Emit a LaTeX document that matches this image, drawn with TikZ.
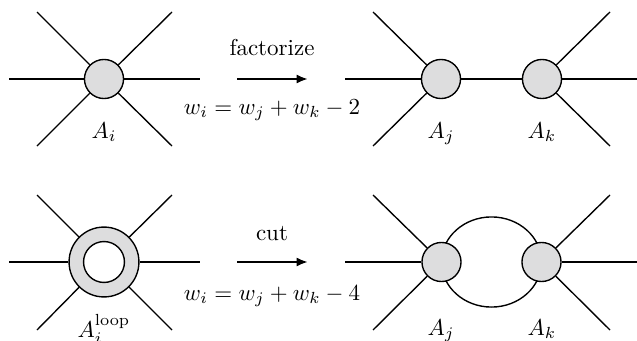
\documentclass[tikz,border=0pt]{standalone}
\usetikzlibrary{arrows.meta,backgrounds}
\definecolor{vfill}{RGB}{221,221,222}
\begin{document}
\begin{tikzpicture}[x=0.435pt,y=-0.435pt,
  vtx/.style={circle,draw,fill=vfill,minimum size=17pt,inner sep=0pt,line width=0.6pt},
  leg/.style={line width=0.6pt},
  bond/.style={line width=0.9pt},
  arr/.style={line width=1.1pt,-{Latex[length=5pt,width=4pt]}},
  lbl/.style={anchor=base,inner sep=0pt}
]
\useasboundingbox (0,0) rectangle (637,341);

% ---------- top left ----------
\node[vtx] (Ai) at (104,79) {};
\coordinate (tlw) at (9,79);   \coordinate (tle) at (200,79);
\coordinate (tlnw) at (37,12); \coordinate (tlne) at (172,12);
\coordinate (tlsw) at (37,146);\coordinate (tlse) at (172,146);
\foreach \c in {tlw,tle,tlnw,tlne,tlsw,tlse} \draw[leg] (Ai) -- (\c);
\node[lbl] (Ailab) at (104,138) {$A_i$};

% ---------- top arrow ----------
\coordinate (tas) at (237,79); \coordinate (tae) at (308,79);
\draw[arr] (tas) -- (tae);
\node[lbl] (fact) at (272,55) {factorize};
\node[lbl] (wtop) at (272,114) {$w_i = w_j + w_k - 2$};

% ---------- top right ----------
\node[vtx] (Aj) at (441,79) {};
\node[vtx] (Ak) at (542,79) {};
\coordinate (trw) at (345,79);  \coordinate (tre) at (637,79);
\coordinate (trjn) at (373,12); \coordinate (trjs) at (373,146);
\coordinate (trkn) at (610,12); \coordinate (trks) at (610,146);
\draw[leg] (trw) -- (Aj);
\draw[bond] (Aj) -- (Ak);
\draw[leg] (Ak) -- (tre);
\draw[leg] (Aj) -- (trjn);
\draw[leg] (Aj) -- (trjs);
\draw[leg] (Ak) -- (trkn);
\draw[leg] (Ak) -- (trks);
\node[lbl] (Ajlab) at (441,138) {$A_j$};
\node[lbl] (Aklab) at (542,138) {$A_k$};

% ---------- bottom left ----------
\node[circle,draw,fill=vfill,minimum size=30.4pt,inner sep=0pt,line width=0.6pt] (ring) at (104,262) {};
\node[circle,draw,fill=white,minimum size=17.8pt,inner sep=0pt,line width=0.6pt] (hole) at (104,262) {};
\coordinate (blw) at (9,262);   \coordinate (ble) at (200,262);
\coordinate (blnw) at (37,195); \coordinate (blne) at (172,195);
\coordinate (blsw) at (37,330); \coordinate (blse) at (172,330);
\foreach \c in {blw,ble,blnw,blne,blsw,blse} \draw[leg] (ring) -- (\c);
\node[lbl] (Alooplab) at (104,337) {$A_i^{\mathrm{loop}}$};

% ---------- bottom arrow ----------
\coordinate (bas) at (237,262); \coordinate (bae) at (308,262);
\draw[arr] (bas) -- (bae);
\node[lbl] (cut) at (272,240) {cut};
\node[lbl] (wbot) at (272,300) {$w_i = w_j + w_k - 4$};

% ---------- bottom right ----------
\node[vtx] (Bj) at (441.5,262) {};
\node[vtx] (Bk) at (541.5,262) {};
\begin{scope}[on background layer]
  \draw[leg] (Bj.center) arc[start angle=180,end angle=0,x radius=21.75pt,y radius=19.6pt];
  \draw[leg] (Bj.center) arc[start angle=180,end angle=360,x radius=21.75pt,y radius=19.6pt];
\end{scope}
\coordinate (brw) at (345,262);  \coordinate (bre) at (637,262);
\coordinate (brjn) at (373,195); \coordinate (brjs) at (373,330);
\coordinate (brkn) at (610,195); \coordinate (brks) at (610,330);
\draw[leg] (brw) -- (Bj);
\draw[leg] (Bk) -- (bre);
\draw[leg] (Bj) -- (brjn);
\draw[leg] (Bj) -- (brjs);
\draw[leg] (Bk) -- (brkn);
\draw[leg] (Bk) -- (brks);
\node[lbl] (Bjlab) at (441,335) {$A_j$};
\node[lbl] (Bklab) at (542,335) {$A_k$};
\end{tikzpicture}
\end{document}
